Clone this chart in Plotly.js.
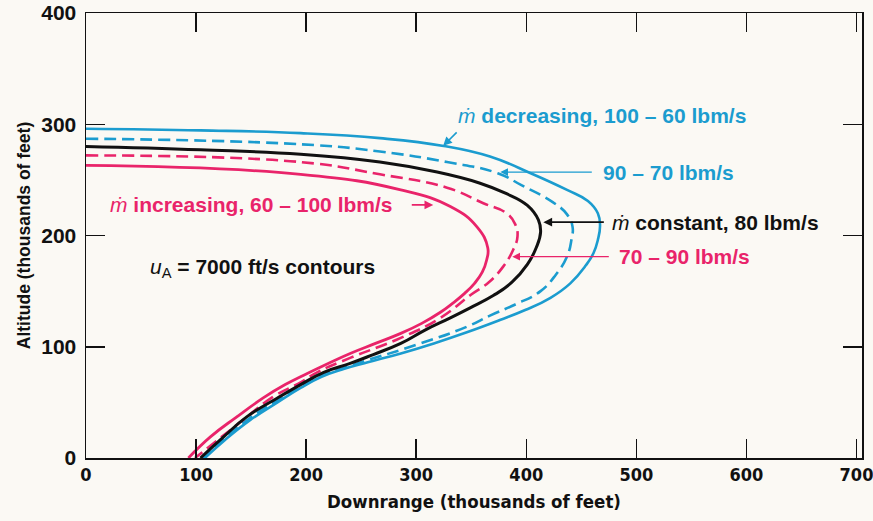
<!DOCTYPE html>
<html>
<head>
<meta charset="utf-8">
<script src="https://cdn.plot.ly/plotly-3.0.1.min.js"></script>
<style>
html,body{margin:0;padding:0;background:#fbf9f4;}
#chart{width:873px;height:521px;}
</style>
</head>
<body>
<div id="chart"></div>
<script>
// m-dot decreasing, 100 - 60 lbm/s (blue solid)
const decX = [0,104,195,267,325,367,404,437,456,465,467,465,461,454,440,422,399,376,346,316,286,256,234,214,195,174,149,126,108];
const decY = [296,294.5,292,287.5,280.5,271,256,241,231,220,209,196,184,173,157,144,133,124,113,103,94,86,80,73,63,50,34,16,0];

// 90 - 70 lbm/s (blue dashed)
const d9070X = [0,195,267,328,374,396,424,437,442,441,437,427,413,390,367,346,301,256,234,214,195,174,149,126,106];
const d9070Y = [287,282,275.5,266,256,245,230,219,208,196,181,165,150,138,128,118,102,88,81,75,65,52,36,18,0];

// m-dot constant, 80 lbm/s (black)
const constX = [0,104,195,267,319,358,381,401,411,413,409,401,387,370,349,331,308,286,261,240,216,195,174,146,125,104];
const constY = [280,277,273,266,257,247,238,227,214,203,189,174,158,146,135,126,115,103,93,85,77,66,54,37,19,0];

// 70 - 90 lbm/s (pink dashed)
const d7090X = [0,195,267,328,361,382,390,392,388,379,366,350,322,286,240,210,195,170,145,122,99];
const d7090Y = [272,266,255,243,229,220,210,199,187,172,158,147,126,108,90,77,68,55,36,18,0];

// m-dot increasing, 60 - 100 lbm/s (pink solid)
const incX = [0,195,286,331,355,365,364,360,353,344,333,322,305,286,263,240,220,201,181,161,137,113,93];
const incY = [263,255,241,226,208,189,178,167,157,148,139,131,121,112,103,94,85,76,66,54,37,19,0];

const xTicks = [0,100,200,300,400,500,600,700];
const yTicks = [0,100,200,300,400];

const BLUE = '#1b9ccf';
const PINK = '#e9246a';
const BLACK = '#111111';

const SM = 1.3;
const traces = [
  {x: decX, y: decY, mode:'lines', line:{color:BLUE, width:2.6, shape:'spline', smoothing:SM}},
  {x: d9070X, y: d9070Y, mode:'lines', line:{color:BLUE, width:2.6, dash:'12px,6px', shape:'spline', smoothing:SM}},
  {x: d7090X, y: d7090Y, mode:'lines', line:{color:PINK, width:2.6, dash:'12px,6px', shape:'spline', smoothing:SM}},
  {x: incX, y: incY, mode:'lines', line:{color:PINK, width:2.8, shape:'spline', smoothing:SM}},
  {x: constX, y: constY, mode:'lines', line:{color:BLACK, width:3, shape:'spline', smoothing:SM}}
];

const FAM = 'Liberation Sans, Arial, sans-serif';
const COND = 'DejaVu Sans Condensed, Liberation Sans Narrow, Liberation Sans, sans-serif';
const lbl = (c) => ({family:FAM, size:21, color:c});

const annotations = [
  // blue decreasing
  {x:336, y:307.5, xref:'x', yref:'y', xanchor:'left', yanchor:'middle', showarrow:false,
   text:'<i>ṁ</i> <b>decreasing, 100 – 60 lbm/s</b>', font:lbl(BLUE)},
  {x:324.5, y:280.6, xref:'x', yref:'y', ax:15, ay:-15, showarrow:true, arrowhead:2, arrowsize:1.1, arrowwidth:1.6, arrowcolor:BLUE, text:''},
  // blue 90-70
  {x:468, y:257, xref:'x', yref:'y', xanchor:'left', yanchor:'middle', showarrow:false,
   text:'<b>90 – 70 lbm/s</b>', font:lbl(BLUE)},
  {x:376.4, y:257, xref:'x', yref:'y', ax:93, ay:0, showarrow:true, arrowhead:2, arrowsize:1.1, arrowwidth:1.4, arrowcolor:BLUE, text:''},
  // black constant
  {x:476, y:212, xref:'x', yref:'y', xanchor:'left', yanchor:'middle', showarrow:false,
   text:'<i>ṁ</i> <b>constant, 80 lbm/s</b>', font:lbl(BLACK)},
  {x:415.5, y:212, xref:'x', yref:'y', ax:62, ay:0, showarrow:true, arrowhead:2, arrowsize:1.1, arrowwidth:1.6, arrowcolor:BLACK, text:''},
  // pink 70-90
  {x:482, y:181.5, xref:'x', yref:'y', xanchor:'left', yanchor:'middle', showarrow:false,
   text:'<b>70 – 90 lbm/s</b>', font:lbl(PINK)},
  {x:387.3, y:181, xref:'x', yref:'y', ax:98, ay:0, showarrow:true, arrowhead:2, arrowsize:1.1, arrowwidth:1.4, arrowcolor:PINK, text:''},
  // pink increasing
  {x:20, y:227.5, xref:'x', yref:'y', xanchor:'left', yanchor:'middle', showarrow:false,
   text:'<i>ṁ</i> <b>increasing, 60 – 100 lbm/s</b>', font:lbl(PINK)},
  {x:315.5, y:227.5, xref:'x', yref:'y', ax:-23, ay:0, showarrow:true, arrowhead:2, arrowsize:1.1, arrowwidth:1.6, arrowcolor:PINK, text:''},
  // u_A contours
  {x:56, y:171, xref:'x', yref:'y', xanchor:'left', yanchor:'middle', showarrow:false,
   text:'<i>u</i><sub>A</sub> <b>= 7000 ft/s contours</b>', font:lbl(BLACK)}
];

const layout = {
  width:873, height:521,
  margin:{l:86, r:11, t:13, b:63},
  paper_bgcolor:'#fbf9f4', plot_bgcolor:'#fbf9f4',
  showlegend:false,
  xaxis:{
    range:[0,705], tickvals:xTicks, ticktext:xTicks.map(String),
    ticks:'inside', ticklen:19, tickwidth:1.5, tickcolor:'#111',
    showline:true, linecolor:'#111', linewidth:1.5, mirror:'ticks',
    showgrid:false, zeroline:false, ticklabeloverflow:'allow',
    tickfont:{family:COND, size:18, color:'#111', weight:'bold'},
    title:{text:'<b>Downrange (thousands of feet)</b>', standoff:11,
      font:{family:COND, size:18.5, color:'#111'}}
  },
  yaxis:{
    range:[0,400], tickvals:yTicks, ticktext:yTicks.map(String),
    ticks:'inside', ticklen:19, tickwidth:1.5, tickcolor:'#111',
    showline:true, linecolor:'#111', linewidth:1.5, mirror:'ticks',
    showgrid:false, zeroline:false, ticklabelstandoff:4,
    tickfont:{family:FAM, size:21, color:'#111', weight:'bold'},
    title:{text:'<b>Altitude (thousands of feet)</b>', standoff:6,
      font:{family:FAM, size:17.5, color:'#111'}}
  },
  annotations: annotations
};

Plotly.newPlot('chart', traces, layout, {staticPlot:true, displayModeBar:false});
</script>
</body>
</html>
